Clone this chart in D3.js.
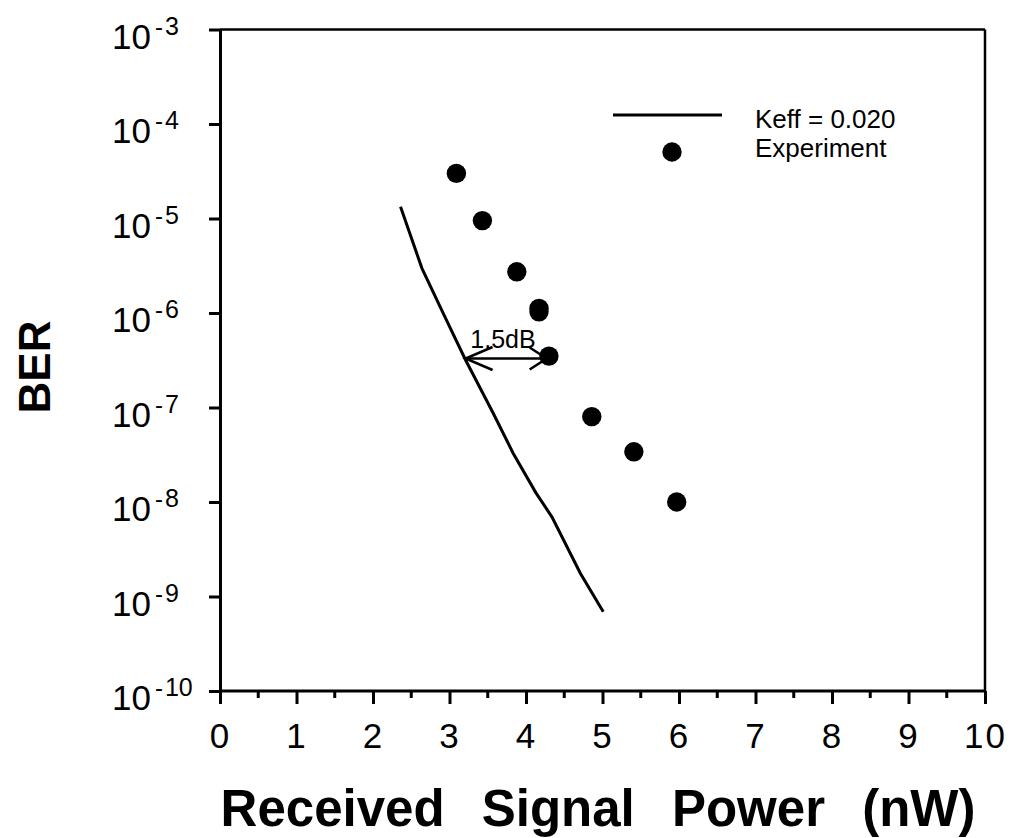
<!DOCTYPE html>
<html><head><meta charset="utf-8">
<script src="https://cdn.jsdelivr.net/npm/d3@7"></script>
<style>body{margin:0;background:#fff} svg{display:block}</style>
</head><body>
<svg id="chart" width="1015" height="838"></svg>
<script>
// ---- data ----
const xTicks = [0,1,2,3,4,5,6,7,8,9,10];
const xMinorTicks = [0.5,1.5,2.5,3.5,4.5,5.5,6.5,7.5,8.5,9.5];
const yExponents = [-3,-4,-5,-6,-7,-8,-9,-10];
const modelX   = [2.36, 2.64, 2.94, 3.21, 3.57, 3.83, 4.13, 4.34, 4.71, 5.01];
const modelBER = [1.33e-5, 2.97e-6, 9.1e-7, 3.18e-7, 8.75e-8, 3.30e-8, 1.25e-8, 6.93e-9, 1.76e-9, 6.9e-10];
const expX   = [3.09, 3.43, 3.88, 4.17, 4.17, 4.30, 4.86, 5.41, 5.97];
const expBER = [3.0e-5, 9.5e-6, 2.73e-6, 1.12e-6, 1.03e-6, 3.5e-7, 8.0e-8, 3.4e-8, 1.0e-8];
const seriesLabels = ["Keff = 0.020", "Experiment"];
const annotationText = "1.5dB";
const annotationBER = 3.3e-7;
const annotationFrom = 3.21;
const annotationTo = 4.27;
const xLabel = "Received Signal Power (nW)";
const yLabel = "BER";

// ---- layout ----
const svg = d3.select("#chart");
const FONT = "'Liberation Sans', Arial, Helvetica, sans-serif";
const x = d3.scaleLinear().domain([0,10]).range([220,985]);
const y = d3.scaleLog().domain([1e-10,1e-3]).range([691,29.5]);

// frame top/right
svg.append("line").attr("x1",x(0)).attr("x2",x(10)).attr("y1",y(1e-3)).attr("y2",y(1e-3))
  .attr("stroke","#000").attr("stroke-width",2.5);
svg.append("line").attr("x1",x(10)).attr("x2",x(10)).attr("y1",y(1e-3)).attr("y2",y(1e-10))
  .attr("stroke","#000").attr("stroke-width",2.5);

// x axis
const gx = svg.append("g").attr("transform",`translate(0,${y(1e-10)})`)
  .call(d3.axisBottom(x).tickValues(xTicks).tickSize(13).tickSizeOuter(0).tickPadding(20)
    .tickFormat(d3.format("d")));
gx.select(".domain").attr("stroke-width",3).attr("d",`M${x(0)-1},0H${x(10)+1}`);
gx.selectAll(".tick line").attr("stroke-width",3);
gx.selectAll(".tick text").attr("font-family",FONT).attr("font-size",35).attr("fill","#000")
  .attr("dy","0.71em").attr("y",32).attr("letter-spacing","2px");
gx.selectAll(".minor").data(xMinorTicks).enter().append("line").attr("class","minor")
  .attr("x1",d=>x(d)).attr("x2",d=>x(d)).attr("y1",0).attr("y2",7)
  .attr("stroke","#000").attr("stroke-width",3);

// y axis
const yTickVals = yExponents.map(e=>Math.pow(10,e));
const gy = svg.append("g").attr("transform",`translate(${x(0)},0)`)
  .call(d3.axisLeft(y).tickValues(yTickVals).tickSize(11).tickSizeOuter(0).tickFormat(""));
gy.select(".domain").attr("stroke-width",3);
gy.selectAll(".tick line").attr("stroke-width",3);
const ylab = svg.append("g").selectAll("text").data(yExponents).enter().append("text")
  .attr("x",112).attr("y",d=>y(Math.pow(10,d))+19)
  .attr("font-family",FONT).attr("fill","#000");
ylab.append("tspan").attr("font-size",35).text("10");
ylab.append("tspan").attr("font-size",24).attr("dx",4).attr("dy",-14).text("-");
ylab.append("tspan").attr("font-size",25).attr("dx",2).text(d=>String(-d));

// axis titles
svg.append("text").attr("x",598).attr("y",826).attr("text-anchor","middle")
  .attr("font-family",FONT).attr("font-weight","bold").attr("font-size",51)
  .attr("word-spacing","23px").attr("fill","#000").text(xLabel);
svg.append("text").attr("transform","translate(50,367) rotate(-90)").attr("text-anchor","middle")
  .attr("font-family",FONT).attr("font-weight","bold").attr("font-size",44).attr("fill","#000").text(yLabel);

// model line
const line = d3.line().x(d=>x(d[0])).y(d=>y(d[1]));
svg.append("path").datum(modelX.map((v,i)=>[v,modelBER[i]]))
  .attr("d",line).attr("fill","none").attr("stroke","#000").attr("stroke-width",3);

// experiment dots
svg.append("g").selectAll("circle").data(expX.map((v,i)=>[v,expBER[i]])).enter().append("circle")
  .attr("cx",d=>x(d[0])).attr("cy",d=>y(d[1])).attr("r",9.7).attr("fill","#000");

// annotation arrow
const ay = y(annotationBER), ax0 = x(annotationFrom), ax1 = x(annotationTo);
const ag = svg.append("g").attr("stroke","#000").attr("stroke-width",2.5).attr("fill","none");
ag.append("line").attr("x1",ax0).attr("x2",ax1).attr("y1",ay).attr("y2",ay);
ag.append("path").attr("d",`M${ax0+27},${ay-11.5}L${ax0},${ay}L${ax0+27},${ay+11.5}`);
ag.append("path").attr("d",`M${ax1-17},${ay-11}L${ax1},${ay}L${ax1-17},${ay+11}`);
svg.append("text").attr("x",503).attr("y",ay-11).attr("text-anchor","middle")
  .attr("font-family",FONT).attr("font-size",25).attr("fill","#000").text(annotationText);

// legend
svg.append("line").attr("x1",613).attr("x2",722).attr("y1",115).attr("y2",115)
  .attr("stroke","#000").attr("stroke-width",3);
svg.append("circle").attr("cx",672).attr("cy",152).attr("r",9.7).attr("fill","#000");
svg.append("text").attr("x",755).attr("y",128).attr("font-family",FONT).attr("font-size",26)
  .attr("fill","#000").text(seriesLabels[0]);
svg.append("text").attr("x",755).attr("y",157).attr("font-family",FONT).attr("font-size",26)
  .attr("fill","#000").text(seriesLabels[1]);
</script>
</body></html>
